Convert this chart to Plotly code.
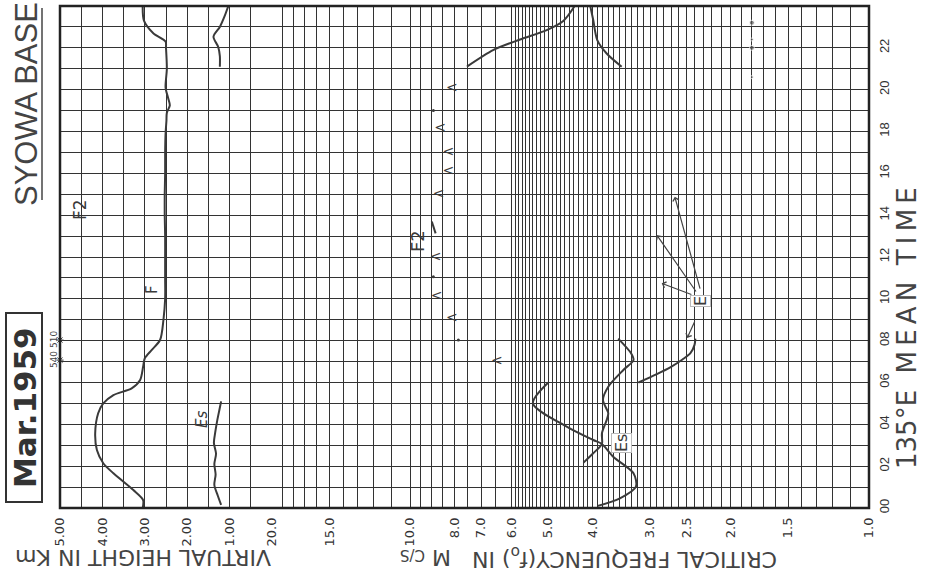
import math
import plotly.graph_objects as go

# ---------------- data ----------------
# time axis labels (135E mean time)
time_tick_vals = list(range(0, 25, 2))
time_tick_text = ["00", "02", "04", "06", "08", "10", "12", "14", "16", "18", "20", "22", "00"]

# virtual height axis (km), labels as printed
height_tick_vals = [500, 400, 300, 200, 100]
height_tick_text = ["5.00", "4.00", "3.00", "2.00", "1.00"]

# critical frequency axis (Mc/s), labels as printed
freq_tick_vals = [20, 15, 10, 8, 7, 6, 5, 4, 3, 2.5, 2, 1.5, 1]
freq_tick_text = ["20.0", "15.0", "10.0", "8.0", "7.0", "6.0", "5.0", "4.0", "3.0", "2.5", "2.0", "1.5", "1.0"]

# graph-paper rulings of the frequency scale
freq_grid = ([20, 19, 18, 17, 16, 15, 14, 13, 12, 11, 10, 9.5, 9, 8.5, 8, 7.5, 7, 6.5, 6]
             + [round(6 - 0.1 * i, 1) for i in range(1, 51)])

# h'F  (virtual height of F layer, km)
hF_hour = [0, 0.38, 0.86, 1.66, 2.14, 2.77, 3.57, 4.53, 5.0, 5.4, 5.72, 6.12, 6.75, 7.16, 7.55,
           8.03, 9.0, 10, 11, 12, 13, 14, 15, 16, 17, 17.9, 18.5, 18.9, 19.25, 19.6, 20.1, 21.0,
           22.0, 22.3, 22.7, 23.3, 24]
hF_km = [305, 304, 327, 374, 398, 413, 417, 410, 398, 374, 331, 311, 304, 300, 284,
         264, 256, 252, 252, 252, 252, 253, 253, 252, 252, 251, 249, 248, 241, 245, 251, 248,
         250, 251, 280, 302, 305]

# h'F values off scale (km)
hF_off_hour = [7.07, 8.03]
hF_off_km = [540, 510]

# h'Es (km)
hEs_night_hour = [0.15, 0.6, 1.1, 1.6, 2.1, 2.6, 3.1, 3.6, 4.2, 4.7, 5.1]
hEs_night_km = [120, 128, 136, 133, 136, 132, 137, 134, 129, 124, 120]
hEs_eve_hour = [21.1, 21.6, 22.05, 22.53, 23.0, 23.5, 24]
hEs_eve_km = [123, 123, 127, 138, 123, 112, 103]

# foF2 (Mc/s)
foF2_eve_hour = [21.1, 21.9, 22.4, 22.85, 23.3, 24]
foF2_eve_mhz = [7.52, 6.58, 5.76, 5.04, 4.63, 4.38]
foF2_lt_hour = [20.06, 18.15, 17.0, 16.1, 15.0, 12.0, 10.1, 9.07, 7.0]
foF2_lt_mhz = [8.11, 8.6, 8.25, 8.25, 8.67, 8.8, 8.75, 8.11, 6.47]
foF2_dot_hour = [19.0, 11.06, 8.03]
foF2_dot_mhz = [8.9, 8.9, 7.85]
foF2_seg_hour = [13.13, 13.7]
foF2_seg_mhz = [8.8, 8.97]
foF2_night_hour = [0.1, 0.46, 1.02, 1.66, 2.45, 3.06, 3.25, 3.89, 5.0, 6.0]
foF2_night_mhz = [3.9, 3.49, 3.22, 3.26, 3.61, 3.82, 3.99, 4.56, 5.4, 5.0]

# foEs (Mc/s)
foEs_hour = [2.17, 2.62, 3.06, 3.57, 4.2, 4.53, 5.16, 5.8, 6.6, 7.07, 7.4, 8.1]
foEs_mhz = [4.19, 3.99, 3.82, 3.82, 3.73, 3.70, 3.80, 3.70, 3.43, 3.26, 3.30, 3.52]
foEs_eve_hour = [21.1, 21.73, 22.37, 23.33, 24]
foEs_eve_mhz = [3.46, 3.73, 3.91, 3.99, 4.05]

# foE (Mc/s)
foE_hour = [6.0, 6.4, 6.75, 7.1, 7.4, 7.8, 8.1]
foE_mhz = [3.18, 2.9, 2.7, 2.55, 2.45, 2.40, 2.39]

# isolated E values pointed to by arrows from the "E" label
E_arrow_hour = [8.13, 10.74, 13.05, 14.88]
E_arrow_mhz = [2.49, 2.83, 2.90, 2.65]
E_tail_hour = [8.99, 10.18, 10.28, 10.42]
E_tail_mhz = [2.39, 2.42, 2.37, 2.33]

# fmin dots
fmin_hour = [23.2, 22.4, 22.0, 20.6]
fmin_mhz = [1.8, 1.8, 1.8, 1.8]
fmin_size = [5, 3, 5, 3]

# ---------------- styling ----------------
W, H = 927, 578
L, R, T, B = 60, 869, 6, 508
split = (272 - L) / (R - L)
INK = "#3a3a3a"
GRID = "#333333"


def px(x):
    return (x - L) / (R - L)


def py(y):
    return (B - y) / (B - T)


curve = dict(color=INK, width=2, shape="spline", smoothing=0.8)

fig = go.Figure()

# height curves (x axis 1)
for hx, hy in [(hF_km, hF_hour), (hEs_night_km, hEs_night_hour), (hEs_eve_km, hEs_eve_hour)]:
    fig.add_trace(go.Scatter(x=hx, y=hy, mode="lines", line=curve, xaxis="x", yaxis="y",
                             hoverinfo="skip"))

fig.add_trace(go.Scatter(x=[min(v, 500) for v in hF_off_km], y=hF_off_hour, mode="markers",
                         marker=dict(symbol="asterisk-open", size=6, color=INK, line=dict(width=1, color=INK)),
                         xaxis="x", yaxis="y", cliponaxis=False, hoverinfo="skip"))

# frequency curves (x axis 2)
for fx, fy in [(foF2_eve_mhz, foF2_eve_hour), (foF2_night_mhz, foF2_night_hour),
               (foEs_mhz, foEs_hour), (foEs_eve_mhz, foEs_eve_hour), (foE_mhz, foE_hour),
               (foF2_seg_mhz, foF2_seg_hour)]:
    fig.add_trace(go.Scatter(x=fx, y=fy, mode="lines", line=curve, xaxis="x2", yaxis="y",
                             hoverinfo="skip"))

fig.add_trace(go.Scatter(x=foF2_lt_mhz, y=foF2_lt_hour, mode="text", text=["<"] * len(foF2_lt_mhz),
                         textfont=dict(family="DejaVu Sans", size=14, color=INK),
                         xaxis="x2", yaxis="y", hoverinfo="skip"))
fig.add_trace(go.Scatter(x=foF2_dot_mhz, y=foF2_dot_hour, mode="markers",
                         marker=dict(size=3, color=INK), xaxis="x2", yaxis="y", hoverinfo="skip"))
fig.add_trace(go.Scatter(x=fmin_mhz, y=fmin_hour, mode="markers",
                         marker=dict(size=fmin_size, color="#555555"), xaxis="x2", yaxis="y",
                         hoverinfo="skip"))

tickfont = dict(family="DejaVu Sans", size=13, color="#333333")

fig.update_layout(
    width=W, height=H,
    margin=dict(l=L, r=W - R, t=T, b=H - B),
    paper_bgcolor="white", plot_bgcolor="white", showlegend=False,
    xaxis=dict(domain=[0, split], range=[500, 0], tickmode="array", tickvals=height_tick_vals,
               ticktext=height_tick_text, tickangle=-90, tickfont=tickfont, ticks="",
               ticklabelstandoff=6, showgrid=True, gridcolor=GRID, gridwidth=1,
               minor=dict(tick0=0, dtick=50, showgrid=True, gridcolor=GRID, gridwidth=1),
               zeroline=False, showline=False, anchor="y", fixedrange=True, automargin=False),
    xaxis2=dict(domain=[split, 1], type="log", range=[math.log10(20), 0], tickmode="array",
                tickvals=freq_tick_vals, ticktext=freq_tick_text, tickangle=-90, tickfont=tickfont,
                ticks="", ticklabelstandoff=6, showgrid=True, gridcolor=GRID, gridwidth=1,
                minor=dict(tickmode="array", tickvals=freq_grid, showgrid=True, gridcolor=GRID,
                           gridwidth=1),
                zeroline=False, showline=False, anchor="y", fixedrange=True, automargin=False),
    yaxis=dict(range=[0, 24], side="right", anchor="x2", tickmode="array", tickvals=time_tick_vals,
               ticktext=time_tick_text, tickangle=-90,
               tickfont=dict(family="Liberation Sans", size=13, color="#333333"), ticks="",
               ticklabelstandoff=6, showgrid=True, gridcolor=GRID, gridwidth=1,
               minor=dict(dtick=1, showgrid=True, gridcolor=GRID, gridwidth=1),
               zeroline=False, showline=False, fixedrange=True, automargin=False),
)

shapes = [
    dict(type="rect", xref="paper", yref="paper", x0=0, x1=1, y0=0, y1=1,
         line=dict(color="#222222", width=2.5)),
    dict(type="rect", xref="paper", yref="paper", x0=px(6), x1=px(42), y0=py(502), y1=py(313),
         line=dict(color="#333333", width=2)),
    dict(type="line", xref="paper", yref="paper", x0=px(42), x1=px(42), y0=py(200), y1=py(8),
         line=dict(color="#444444", width=1.5)),
]
fig.update_layout(shapes=shapes)

ann = []


def txt(s, x, y, size, angle, family="DejaVu Sans", color="#3a3a3a", **kw):
    ann.append(dict(text=s, xref="paper", yref="paper", x=px(x), y=py(y), showarrow=False,
                    textangle=angle, font=dict(family=family, size=size, color=color),
                    xanchor="center", yanchor="middle", **kw))


txt("SYOWA BASE", 26, 104, 31, -90, family="Liberation Sans", color="#444444")
txt("<b>Mar.1959</b>", 25, 408, 31, -90, color="#333333")
txt("VIRTUAL HEIGHT IN Km", 143, 558, 22, 180, color="#444444")
txt("CRITICAL FREQUENCY(f<sub>o</sub>) IN", 625, 558, 22, 180, color="#444444")
txt("M <span style='font-size:15px'>C/S</span>", 426, 558, 22, 180, color="#444444")
txt("135°E\u00a0\u00a0M\u2009E\u2009A\u2009N\u00a0\u00a0T\u2009I\u2009M\u2009E", 907, 328, 26, -90,
    color="#444444")
txt("F2", 80, 210, 17, -90)
txt("F", 152, 290, 15, -90)
txt("<i>Es</i>", 202, 420, 15, -90)
txt("F2", 417, 241, 18, -90)
txt("Es", 621, 443, 16, -90, bgcolor="white", bordercolor="#bbbbbb", borderwidth=1, borderpad=0)
txt("E", 701, 301, 16, -90, bgcolor="white", bordercolor="#bbbbbb", borderwidth=1, borderpad=0)

for v, hr in zip(hF_off_km, hF_off_hour):
    ann.append(dict(text=str(v), xref="x", yref="y", x=500, y=hr, xshift=-6, showarrow=False,
                    textangle=-90, font=dict(family="DejaVu Sans", size=9, color="#444444")))

for fh, hh, ft, ht in zip(E_arrow_mhz, E_arrow_hour, E_tail_mhz, E_tail_hour):
    ann.append(dict(text="", xref="x2", yref="y", x=math.log10(fh), y=hh,
                    axref="x2", ayref="y", ax=math.log10(ft), ay=ht, showarrow=True,
                    arrowhead=4, arrowsize=1, arrowwidth=1.2, arrowcolor="#444444", standoff=0,
                    startstandoff=0))

fig.update_layout(annotations=ann)

fig.write_html("out.html", config={"displayModeBar": False, "staticPlot": True},
               post_script="document.body.style.margin='0px';document.body.style.padding='0px';")
